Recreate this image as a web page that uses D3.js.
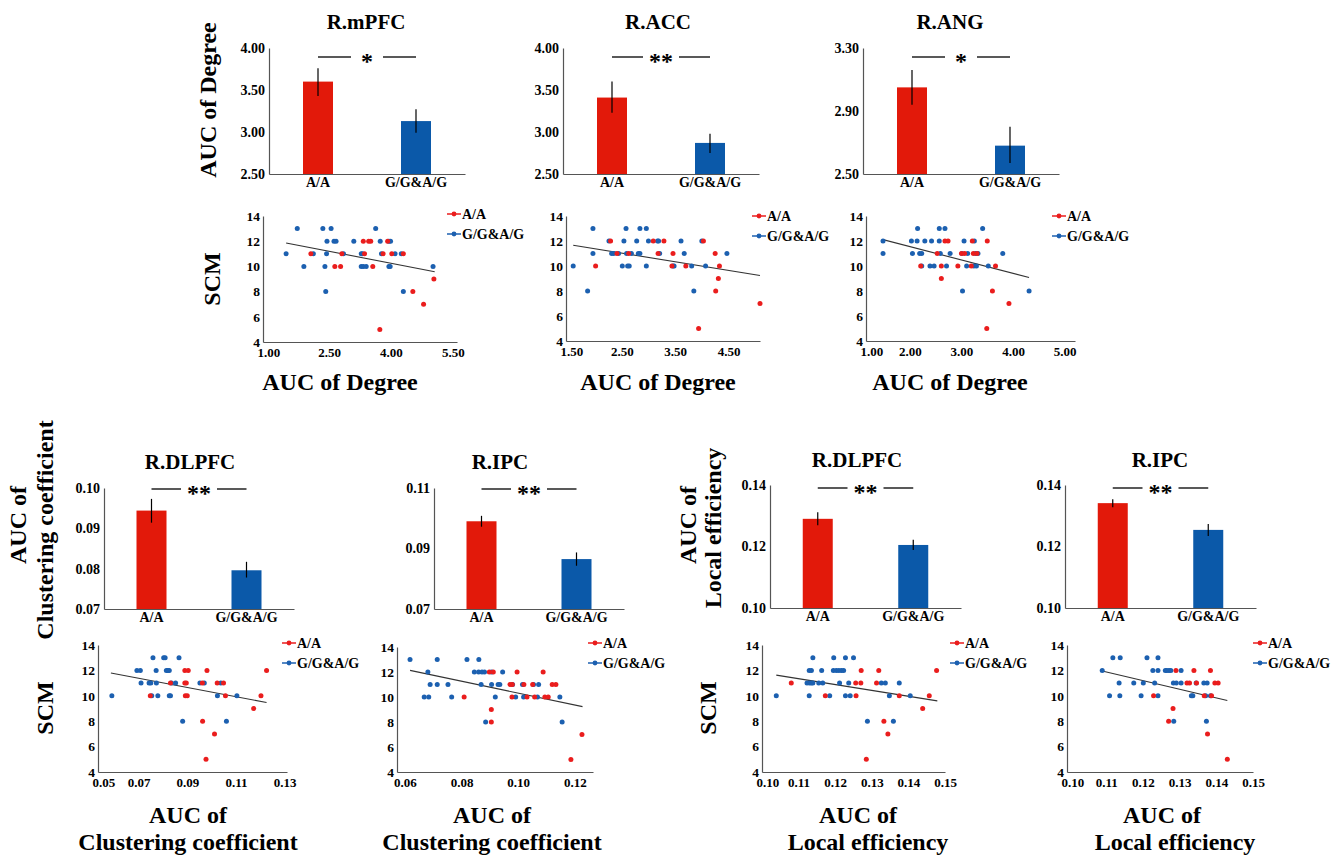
<!DOCTYPE html>
<html>
<head>
<meta charset="utf-8">
<script src="https://cdn.jsdelivr.net/npm/d3@7"></script>
<style>
body { margin: 0; background: #fff; }
svg { display: block; }
svg text { font-family: "Liberation Serif", "Tinos", "DejaVu Serif", serif !important; font-weight: bold; }
</style>
</head>
<body>
<svg id="fig" width="1336" height="855"></svg>
<script>
const groups = ["A/A", "G/G&A/G"];

// bar charts: group means and error-bar ends [low, high]
const degMpfcMean = [3.60, 3.13];
const degMpfcErr = [[3.43, 3.76], [2.99, 3.27]];
const degAccMean = [3.41, 2.87];
const degAccErr = [[3.23, 3.60], [2.75, 2.98]];
const degAngMean = [3.05, 2.68];
const degAngErr = [[2.94, 3.16], [2.57, 2.80]];
const ccDlpfcMean = [0.0944, 0.0796];
const ccDlpfcErr = [[0.0914, 0.0973], [0.0778, 0.0817]];
const ccIpcMean = [0.0990, 0.0865];
const ccIpcErr = [[0.0972, 0.1008], [0.0843, 0.0887]];
const leDlpfcMean = [0.1290, 0.1205];
const leDlpfcErr = [[0.1269, 0.1311], [0.1189, 0.1222]];
const leIpcMean = [0.1341, 0.1254];
const leIpcErr = [[0.1328, 0.1354], [0.1234, 0.1273]];

const degTicks = [2.5, 3.0, 3.5, 4.0];
const angTicks = [2.5, 2.9, 3.3];
const ccDlpfcTicks = [0.07, 0.08, 0.09, 0.10];
const ccIpcTicks = [0.07, 0.09, 0.11];
const leTicks = [0.10, 0.12, 0.14];

// scatter plots: [AUC, SCM] per subject, and the fitted line ends
const scmTicks = [4, 6, 8, 10, 12, 14];

const mpfcAA = [[2.06,11],[2.64,10],[2.78,10],[2.81,11],[3.33,12],[3.36,11],[3.46,12],[3.51,12],[3.56,10],[3.73,5],[3.81,11],[3.92,12],[4.02,11],[4.30,11],[4.53,8],[4.79,7],[5.04,9]];
const mpfcGG = [[1.46,11],[1.73,13],[1.89,10],[2.12,11],[2.35,13],[2.40,10],[2.42,8],[2.44,11],[2.45,12],[2.55,13],[2.62,12],[2.67,12],[2.85,11],[3.10,12],[3.28,11],[3.31,11],[3.28,10],[3.33,10],[3.40,10],[3.63,13],[3.74,12],[3.77,11],[3.95,10],[3.98,10],[3.95,12],[3.99,12],[4.10,11],[4.25,11],[4.30,8],[5.02,10]];
const mpfcFit = [[1.46,11.86],[5.06,9.58]];
const mpfcXTicks = [1.0, 2.5, 4.0, 5.5];

const accAA = [[2.01,10],[2.29,12],[2.41,11],[2.63,11],[3.09,12],[3.18,11],[3.29,12],[3.44,10],[3.46,11],[3.70,10],[3.94,5],[4.03,12],[4.25,11],[4.26,8],[4.31,9],[4.33,10],[5.09,7]];
const accGG = [[1.59,10],[1.86,8],[1.96,13],[1.96,11],[2.26,12],[2.31,11],[2.35,11],[2.44,11],[2.51,10],[2.54,12],[2.58,13],[2.59,11],[2.61,10],[2.64,10],[2.68,11],[2.78,12],[2.81,11],[2.84,11],[2.84,13],[2.96,13],[2.96,10],[3.00,12],[3.17,12],[3.19,12],[3.21,11],[3.46,10],[3.48,10],[3.61,12],[3.67,11],[3.81,10],[3.85,8],[4.00,12],[4.07,10],[4.47,11]];
const accFit = [[1.59,11.66],[5.09,9.24]];
const accXTicks = [1.5, 2.5, 3.5, 4.5];

const angAA = [[2.21,10],[2.53,11],[2.61,10],[2.61,9],[2.68,12],[2.74,12],[2.93,10],[3.00,11],[3.06,11],[3.19,10],[3.21,12],[3.23,11],[3.30,11],[3.50,12],[3.49,5],[3.66,10],[3.60,8],[3.92,7]];
const angGG = [[1.48,12],[1.48,11],[2.03,12],[2.05,11],[2.14,12],[2.15,13],[2.19,11],[2.23,11],[2.23,10],[2.29,12],[2.39,10],[2.42,12],[2.47,10],[2.57,13],[2.57,12],[2.59,11],[2.68,13],[2.71,10],[2.78,11],[3.01,11],[3.02,8],[3.05,12],[3.10,10],[3.12,11],[3.24,10],[3.25,12],[3.27,11],[3.29,10],[3.32,11],[3.41,13],[3.52,10],[3.80,11],[4.31,8]];
const angFit = [[1.48,12.11],[4.31,9.08]];
const angXTicks = [1, 2, 3, 4, 5];

const ccDlpfcAA = [[0.0748,10],[0.0831,11],[0.0890,12],[0.0904,12],[0.0890,11],[0.0896,11],[0.0892,10],[0.0900,10],[0.0962,11],[0.0963,8],[0.0981,12],[0.1012,7],[0.0977,5],[0.1023,11],[0.1049,11],[0.1057,10],[0.1173,9],[0.1203,10],[0.1226,12]];
const ccDlpfcGG = [[0.0590,10],[0.0693,12],[0.0707,12],[0.0710,11],[0.0743,11],[0.0750,11],[0.0754,10],[0.0759,13],[0.0772,12],[0.0773,11],[0.0779,10],[0.0803,13],[0.0809,13],[0.0814,12],[0.0820,12],[0.0826,12],[0.0826,10],[0.0831,10],[0.0835,11],[0.0852,11],[0.0866,13],[0.0881,8],[0.0952,11],[0.0970,11],[0.1024,10],[0.1038,11],[0.1061,8],[0.1104,10]];
const ccDlpfcFit = [[0.0586,11.79],[0.1226,9.47]];
const ccDlpfcXTicks = [0.05, 0.07, 0.09, 0.11, 0.13];

const ccIpcAA = [[0.0809,10],[0.0898,12],[0.0912,12],[0.0905,9],[0.0905,8],[0.0971,11],[0.0979,11],[0.0978,10],[0.0996,12],[0.1020,11],[0.1031,10],[0.1051,11],[0.1058,10],[0.1088,12],[0.1094,10],[0.1106,10],[0.1120,11],[0.1133,11],[0.1186,5],[0.1225,7]];
const ccIpcGG = [[0.0618,13],[0.0668,10],[0.0684,10],[0.0681,12],[0.0689,11],[0.0714,13],[0.0714,11],[0.0752,11],[0.0765,10],[0.0819,13],[0.0845,12],[0.0861,13],[0.0860,12],[0.0872,12],[0.0881,12],[0.0869,11],[0.0885,8],[0.0906,11],[0.0906,12],[0.0919,10],[0.0929,11],[0.0935,11],[0.0945,12],[0.0980,11],[0.1015,11],[0.0991,10],[0.1019,10],[0.1054,11],[0.1072,11],[0.1068,10],[0.1147,10],[0.1155,8]];
const ccIpcFit = [[0.0618,12.13],[0.1227,9.23]];
const ccIpcXTicks = [0.06, 0.08, 0.10, 0.12];

const leDlpfcAA = [[0.1080,11],[0.1173,10],[0.1256,11],[0.1257,10],[0.1271,12],[0.1270,11],[0.1285,5],[0.1313,11],[0.1319,12],[0.1333,8],[0.1344,7],[0.1375,10],[0.1439,9],[0.1457,10],[0.1477,12]];
const leDlpfcGG = [[0.1039,10],[0.1123,11],[0.1130,11],[0.1135,11],[0.1139,11],[0.1129,12],[0.1135,12],[0.1129,10],[0.1139,13],[0.1155,11],[0.1166,11],[0.1163,12],[0.1185,10],[0.1196,13],[0.1195,12],[0.1203,12],[0.1210,12],[0.1217,12],[0.1223,12],[0.1212,11],[0.1228,13],[0.1228,10],[0.1237,11],[0.1241,10],[0.1250,13],[0.1288,8],[0.1326,11],[0.1337,11],[0.1348,10],[0.1359,8],[0.1375,11],[0.1405,10]];
const leDlpfcFit = [[0.1039,11.63],[0.1479,9.6]];
const leXTicks = [0.10, 0.11, 0.12, 0.13, 0.14, 0.15];

const leIpcAA = [[0.1229,10],[0.1282,9],[0.1270,8],[0.1290,12],[0.1320,11],[0.1327,11],[0.1339,12],[0.1346,11],[0.1367,10],[0.1376,7],[0.1384,12],[0.1387,10],[0.1396,11],[0.1405,11],[0.1430,5]];
const leIpcGG = [[0.1089,12],[0.1109,10],[0.1118,13],[0.1135,11],[0.1137,10],[0.1138,13],[0.1175,11],[0.1195,10],[0.1201,11],[0.1211,13],[0.1227,12],[0.1232,11],[0.1241,12],[0.1241,13],[0.1241,10],[0.1261,12],[0.1265,12],[0.1271,12],[0.1276,12],[0.1283,11],[0.1291,11],[0.1284,8],[0.1304,12],[0.1304,11],[0.1332,10],[0.1336,10],[0.1345,11],[0.1366,11],[0.1375,11],[0.1371,10],[0.1373,8],[0.1384,10]];
const leIpcFit = [[0.1089,11.95],[0.1430,9.63]];

const RED = "#e2190a", BLUE = "#0b59a9";
const DOT_RED = "#ea1d1d", DOT_BLUE = "#1c60b0";

const svg = d3.select("#fig");
svg.append("rect").attr("width", 1336).attr("height", 855).attr("fill", "#fff");

function styleAxis(sel, size) {
    sel.attr("font-size", size);
    sel.select(".domain").attr("stroke", "#555").attr("stroke-width", 1.2);
    sel.selectAll("text").attr("fill", "#000");
}

function label(x, y, txt, size, rotate) {
    svg.append("text")
        .attr("transform", `translate(${x},${y})` + (rotate ? " rotate(-90)" : ""))
        .attr("text-anchor", "middle").attr("dominant-baseline", "central")
        .attr("font-size", size)
        .text(txt);
}

function drawBar(p) {
    const g = svg.append("g");
    const y = d3.scaleLinear().domain(d3.extent(p.ticks)).range([p.bottom, p.top]);
    const x = d3.scaleBand().domain(groups).range([p.left, p.left + p.width]);
    const cx = i => x(groups[i]) + x.bandwidth() / 2;

    g.append("g").attr("transform", `translate(${p.left},0)`)
        .call(d3.axisLeft(y).tickValues(p.ticks).tickFormat(d3.format(p.fmt)).tickSize(0).tickPadding(4))
        .call(styleAxis, 14);
    g.append("g").attr("transform", `translate(0,${p.bottom})`)
        .call(d3.axisBottom(x).tickSize(0).tickPadding(3))
        .call(styleAxis, 14);

    g.selectAll("rect.bar").data(p.means).join("rect").attr("class", "bar")
        .attr("x", (d, i) => cx(i) - 15).attr("width", 30)
        .attr("y", d => y(d)).attr("height", d => p.bottom - y(d))
        .attr("fill", (d, i) => i ? BLUE : RED);
    g.selectAll("line.err").data(p.errs).join("line").attr("class", "err")
        .attr("x1", (d, i) => cx(i)).attr("x2", (d, i) => cx(i))
        .attr("y1", d => y(d[0])).attr("y2", d => y(d[1]))
        .attr("stroke", "#000").attr("stroke-width", 1.2);

    // significance bracket
    const mid = (cx(0) + cx(1)) / 2;
    const gap = p.stars.length > 1 ? 18 : 16;
    [[cx(0), mid - gap], [mid + gap, cx(1)]].forEach(([a, b]) => {
        g.append("line").attr("x1", a).attr("x2", b).attr("y1", p.sigY).attr("y2", p.sigY)
            .attr("stroke", "#222").attr("stroke-width", 1.5);
    });
    g.append("text").attr("x", mid).attr("y", p.sigY + 12).attr("text-anchor", "middle")
        .attr("font-size", 24)
        .text(p.stars);

    label(p.titleX, p.titleY, p.title, 21);
}

function drawScatter(p) {
    const g = svg.append("g");
    const x = d3.scaleLinear().domain(p.domain).range([p.left, p.right]);
    const y = d3.scaleLinear().domain([4, 14]).range([p.bottom, p.top]);

    g.append("g").attr("transform", `translate(${p.left},0)`)
        .call(d3.axisLeft(y).tickValues(scmTicks).tickSize(0).tickPadding(3))
        .call(styleAxis, 13.5);
    const xa = g.append("g").attr("transform", `translate(0,${p.bottom})`)
        .call(d3.axisBottom(x).tickValues(p.ticks).tickFormat(d3.format(p.fmt)).tickSize(0).tickPadding(6))
        .call(styleAxis, 13);
    // like the spreadsheet, keep the first label from running left past the axis
    const first = xa.select(".tick text");
    const w = first.node().getComputedTextLength();
    const t0 = p.ticks[0];
    if (x(t0) - w / 2 < p.left - 6) {
        first.attr("text-anchor", "start").attr("x", p.left - 6 - x(t0));
    }

    g.append("path").datum(p.fit)
        .attr("d", d3.line().x(d => x(d[0])).y(d => y(d[1])))
        .attr("stroke", "#333").attr("stroke-width", 1.1).attr("fill", "none");

    [[p.gg, DOT_BLUE], [p.aa, DOT_RED]].forEach(([pts, col]) => {
        g.append("g").selectAll("circle").data(pts).join("circle")
            .attr("cx", d => x(d[0])).attr("cy", d => y(d[1])).attr("r", 2.5)
            .attr("fill", col);
    });

    // legend
    groups.forEach((name, i) => {
        const ly = p.legY + i * 20;
        const col = i ? DOT_BLUE : DOT_RED;
        g.append("line").attr("x1", p.legX).attr("x2", p.legX + 14).attr("y1", ly).attr("y2", ly)
            .attr("stroke", col).attr("stroke-width", 1.5);
        g.append("circle").attr("cx", p.legX + 7).attr("cy", ly).attr("r", 2.4).attr("fill", col);
        g.append("text").attr("x", p.legX + 15).attr("y", ly).attr("dominant-baseline", "central")
            .attr("font-size", 14)
            .text(name);
    });
}

// top row: degree
drawBar({ left: 269, width: 196, top: 48, bottom: 174, ticks: degTicks, fmt: ".2f",
          means: degMpfcMean, errs: degMpfcErr, stars: "*", sigY: 57,
          title: "R.mPFC", titleX: 366, titleY: 22 });
drawBar({ left: 563, width: 196, top: 48, bottom: 174, ticks: degTicks, fmt: ".2f",
          means: degAccMean, errs: degAccErr, stars: "**", sigY: 57,
          title: "R.ACC", titleX: 658, titleY: 22 });
drawBar({ left: 863, width: 196, top: 48, bottom: 174, ticks: angTicks, fmt: ".2f",
          means: degAngMean, errs: degAngErr, stars: "*", sigY: 57,
          title: "R.ANG", titleX: 950, titleY: 22 });

drawScatter({ left: 263, right: 457, top: 216, bottom: 342, domain: [0.9, 5.6],
              ticks: mpfcXTicks, fmt: ".2f", aa: mpfcAA, gg: mpfcGG, fit: mpfcFit,
              legX: 447, legY: 214 });
drawScatter({ left: 566, right: 760, top: 216, bottom: 341, domain: [1.455, 5.09],
              ticks: accXTicks, fmt: ".2f", aa: accAA, gg: accGG, fit: accFit,
              legX: 752, legY: 216 });
drawScatter({ left: 866, right: 1075, top: 216, bottom: 341, domain: [1.15, 5.2],
              ticks: angXTicks, fmt: ".2f", aa: angAA, gg: angGG, fit: angFit,
              legX: 1052, legY: 216 });

// bottom row: clustering coefficient and local efficiency
drawBar({ left: 104, width: 190, top: 488, bottom: 609, ticks: ccDlpfcTicks, fmt: ".2f",
          means: ccDlpfcMean, errs: ccDlpfcErr, stars: "**", sigY: 489,
          title: "R.DLPFC", titleX: 190, titleY: 462 });
drawBar({ left: 434, width: 190, top: 488, bottom: 609, ticks: ccIpcTicks, fmt: ".2f",
          means: ccIpcMean, errs: ccIpcErr, stars: "**", sigY: 489,
          title: "R.IPC", titleX: 500, titleY: 462 });
drawBar({ left: 770, width: 191, top: 485, bottom: 608, ticks: leTicks, fmt: ".2f",
          means: leDlpfcMean, errs: leDlpfcErr, stars: "**", sigY: 488,
          title: "R.DLPFC", titleX: 857, titleY: 460 });
drawBar({ left: 1065, width: 191, top: 485, bottom: 608, ticks: leTicks, fmt: ".2f",
          means: leIpcMean, errs: leIpcErr, stars: "**", sigY: 488,
          title: "R.IPC", titleX: 1160, titleY: 460 });

drawScatter({ left: 98, right: 287, top: 645, bottom: 772, domain: [0.0533, 0.131],
              ticks: ccDlpfcXTicks, fmt: ".2f", aa: ccDlpfcAA, gg: ccDlpfcGG, fit: ccDlpfcFit,
              legX: 282, legY: 643 });
drawScatter({ left: 397, right: 593, top: 647, bottom: 772, domain: [0.0572, 0.1264],
              ticks: ccIpcXTicks, fmt: ".2f", aa: ccIpcAA, gg: ccIpcGG, fit: ccIpcFit,
              legX: 588, legY: 643 });
drawScatter({ left: 762, right: 945, top: 645, bottom: 772, domain: [0.1, 0.15],
              ticks: leXTicks, fmt: ".2f", aa: leDlpfcAA, gg: leDlpfcGG, fit: leDlpfcFit,
              legX: 950, legY: 643 });
drawScatter({ left: 1067, right: 1253, top: 645, bottom: 772, domain: [0.0993, 0.15],
              ticks: leXTicks, fmt: ".2f", aa: leIpcAA, gg: leIpcGG, fit: leIpcFit,
              legX: 1253, legY: 643 });

// axis titles
label(208, 100, "AUC of Degree", 24, true);
label(212, 279, "SCM", 24, true);
label(340, 382, "AUC of Degree", 24);
label(658, 382, "AUC of Degree", 24);
label(950, 382, "AUC of Degree", 24);

label(18, 525, "AUC of", 24, true);
label(45, 530, "Clustering coefficient", 24, true);
label(45, 708, "SCM", 24, true);
label(688, 525, "AUC of", 24, true);
label(713, 528, "Local efficiency", 24, true);
label(708, 708, "SCM", 24, true);

label(188, 815, "AUC of", 24);
label(188, 842, "Clustering coefficient", 24);
label(492, 815, "AUC of", 24);
label(492, 842, "Clustering coefficient", 24);
label(858, 815, "AUC of", 24);
label(868, 842, "Local efficiency", 24);
label(1162, 815, "AUC of", 24);
label(1175, 842, "Local efficiency", 24);
</script>
</body>
</html>
